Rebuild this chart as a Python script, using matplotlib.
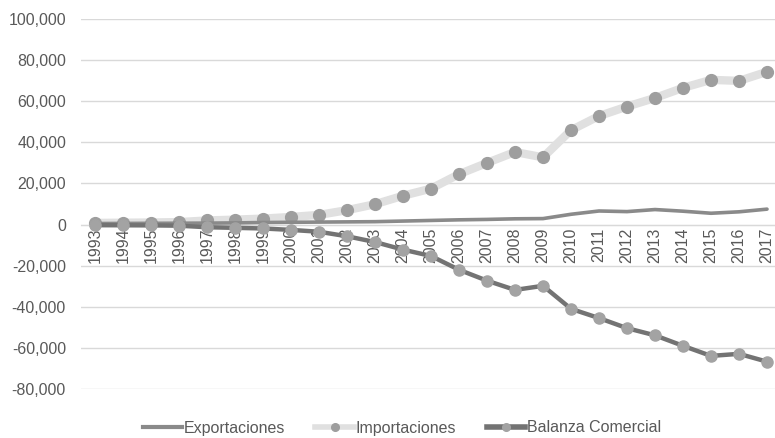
import matplotlib
matplotlib.use("Agg")
import matplotlib.pyplot as plt
from matplotlib.ticker import FuncFormatter, MultipleLocator
from matplotlib.lines import Line2D

years = list(range(1993, 2018))
exportaciones = [500, 550, 600, 650, 700, 800, 1000, 1100, 1200, 1300, 1400, 1700, 2000,
                 2300, 2500, 2800, 2900, 5000, 6600, 6300, 7300, 6500, 5500, 6200, 7500]
importaciones = [800, 900, 1000, 1200, 2000, 2400, 2900, 3700, 4700, 7000, 9900, 14000, 17500,
                 24500, 30000, 35300, 32700, 45900, 52800, 57400, 61600, 66500, 70400, 69900, 74300]
balanza = [-300, -350, -400, -550, -1300, -1600, -1900, -2600, -3500, -5700, -8500, -12200, -15300,
           -22000, -27300, -31800, -29800, -41000, -45500, -50400, -53900, -59000, -63900, -62900, -66700]
labels = ['Exportaciones', 'Importaciones', 'Balanza Comercial']

plt.rcParams['font.family'] = ['Liberation Sans', 'DejaVu Sans']
FS = 11.5
TXT = '#595959'

fig = plt.figure(figsize=(7.75, 4.38), dpi=100)
ax = fig.add_axes([81/775, (438-389)/438, (775-81)/775, (389-19)/438])

ax.plot(years, exportaciones, color='#8a8a8a', lw=2.6, solid_capstyle='round', zorder=3)
ax.plot(years, importaciones, color='#e0e0e0', lw=6, marker='o', ms=8.5,
        markerfacecolor='#9e9e9e', markeredgecolor='#9e9e9e', zorder=2)
ax.plot(years, balanza, color='#737373', lw=3.2, marker='o', ms=8,
        markerfacecolor='#a3a3a3', markeredgecolor='#a3a3a3', zorder=4)

ax.set_ylim(-80000, 100000)
ax.set_xlim(1992.5, 1992.5 + (775-81)/28)
ax.yaxis.set_major_locator(MultipleLocator(20000))
ax.yaxis.set_major_formatter(FuncFormatter(lambda v, p: f"{int(v):,}"))
ax.grid(axis='y', color='#d9d9d9', lw=1)
ax.set_axisbelow(True)
for s in ['top', 'right', 'left']:
    ax.spines[s].set_visible(False)
ax.spines['bottom'].set_position(('data', 0))
ax.spines['bottom'].set_color('#d9d9d9')
ax.set_xticks(years)
ax.set_xticklabels([str(y) for y in years], rotation=90, fontsize=FS, color=TXT)
ax.tick_params(axis='x', length=0, pad=2)
ax.tick_params(axis='y', length=0, labelsize=FS, labelcolor=TXT, pad=10.8)

handles = [
    Line2D([], [], color='#8a8a8a', lw=3),
    Line2D([], [], color='#e0e0e0', lw=4, marker='o', ms=5.5,
           markerfacecolor='#9e9e9e', markeredgecolor='#9e9e9e'),
    Line2D([], [], color='#737373', lw=4, marker='o', ms=5.5,
           markerfacecolor='#a3a3a3', markeredgecolor='#a3a3a3'),
]
leg = fig.legend(handles, labels, loc='center', bbox_to_anchor=(402/775, (438-428)/438), ncol=3,
                 frameon=False, fontsize=FS, handlelength=2.44, handletextpad=0.1,
                 columnspacing=1.9)
for t in leg.get_texts():
    t.set_color(TXT)

fig.savefig('out.png', dpi=100)
